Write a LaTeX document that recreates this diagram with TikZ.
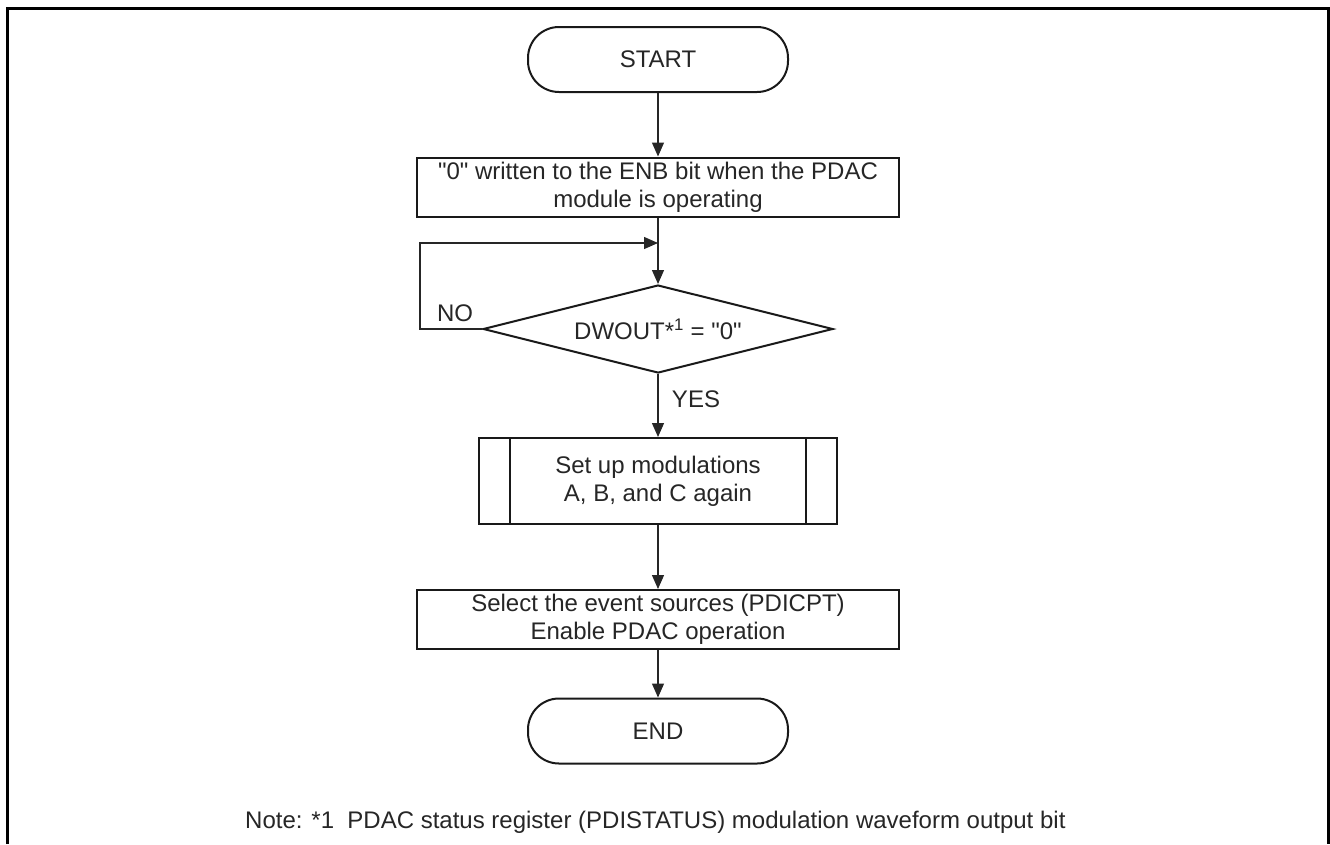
\documentclass[tikz,border=0pt]{standalone}
\usepackage{fontspec}
\setmainfont{Liberation Sans}
\usetikzlibrary{shapes.geometric,arrows.meta}
\begin{document}
\begin{tikzpicture}[x=1pt,y=-1pt,
  every node/.style={font=\fontsize{24}{28}\selectfont, text=black!85},
  shapeline/.style={draw=black!90, line width=2pt},
  term/.style={shapeline, rectangle, rounded corners=31pt, minimum width=260pt, minimum height=65pt, inner sep=0pt},
  proc/.style={shapeline, rectangle, minimum width=482pt, minimum height=59pt, inner sep=0pt, align=center},
  pred/.style={shapeline, rectangle, minimum width=358pt, minimum height=86pt, inner sep=0pt, align=center},
  dec/.style={shapeline, diamond, shape aspect=4, minimum width=350pt, minimum height=88pt, inner sep=0pt},
  conn/.style={draw=black!85, line width=1.3pt},
  arr/.style={conn, -{Triangle[length=14pt,width=12pt]}},
  lbl/.style={inner sep=0pt}
]
\useasboundingbox (0,0) rectangle (1330,844);
\draw[line width=3pt] (7,844) -- (7,8) -- (1328,8) -- (1328,844);

\node[term] (start) at (658,59.5) {START};
\node[proc] (b1) at (658,187) {\textquotedbl 0\textquotedbl{} written to the ENB bit when the PDAC\\module is operating};
\node[dec] (d) at (658,329) {DWOUT*\textsuperscript{1} = \textquotedbl 0\textquotedbl};
\node[pred] (p) at (658,481) {Set up modulations\\A, B, and C again};
\draw[shapeline] ([xshift=32pt]p.north west) -- ([xshift=32pt]p.south west);
\draw[shapeline] ([xshift=-32pt]p.north east) -- ([xshift=-32pt]p.south east);
\node[proc] (b3) at (658,619.5) {Select the event sources (PDICPT)\\Enable PDAC operation};
\node[term] (e) at (658,731) {END};

\coordinate (j) at (658,243);
\coordinate (lc) at (420,329);

\draw[arr] (start.south) -- (b1.north);
\draw[arr] (b1.south) -- (d.north);
\draw[arr] (d.west) -- (lc) |- (j);
\draw[arr] (d.south) -- (p.north);
\draw[arr] (p.south) -- (b3.north);
\draw[arr] (b3.south) -- (e.north);

\node[lbl] (no) at (455,313) {NO};
\node[lbl] (yes) at (696,399) {YES};
\node[lbl, anchor=base west] (note) at (245,828) {Note: *1\ \ PDAC status register (PDISTATUS) modulation waveform output bit};
\end{tikzpicture}
\end{document}
